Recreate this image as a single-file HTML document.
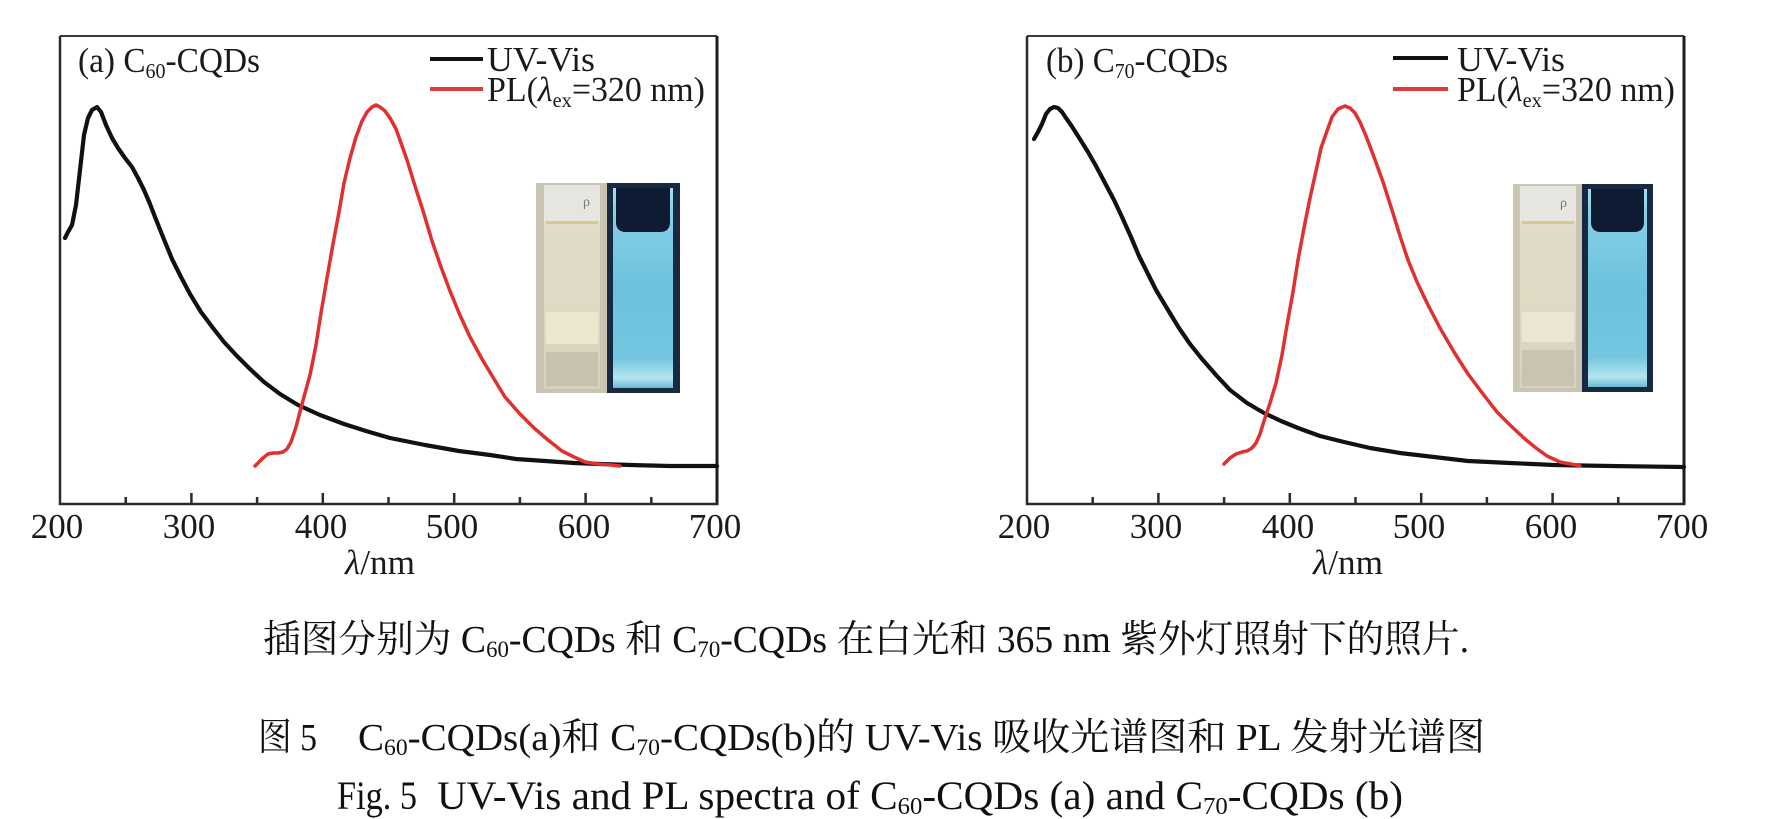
<!DOCTYPE html>
<html>
<head>
<meta charset="utf-8">
<style>
html,body{margin:0;padding:0;background:#fff;}
svg{display:block;}
.t{font-family:"Liberation Serif","Noto Serif CJK SC",serif;fill:#1a1a1a;}
.c{font-family:"Liberation Serif","Noto Serif CJK SC",serif;fill:#111;}
</style>
</head>
<body>
<svg width="1792" height="819" viewBox="0 0 1792 819" xmlns="http://www.w3.org/2000/svg">
<defs>
<linearGradient id="glow" x1="0" y1="0" x2="0" y2="1">
<stop offset="0" stop-color="#a6dff0"/>
<stop offset="0.12" stop-color="#86d0e6"/>
<stop offset="0.5" stop-color="#6cc2dc"/>
<stop offset="0.85" stop-color="#74c6df"/>
<stop offset="0.95" stop-color="#b4e6f2"/>
<stop offset="1" stop-color="#6cb8d2"/>
</linearGradient>
<linearGradient id="beige" x1="0" y1="0" x2="0" y2="1">
<stop offset="0" stop-color="#e2dccb"/>
<stop offset="0.6" stop-color="#e0d9c4"/>
<stop offset="1" stop-color="#d8d1bc"/>
</linearGradient>
</defs>
<rect width="1792" height="819" fill="#fff"/>

<!-- ================= LEFT PANEL ================= -->
<g>
<rect x="536" y="183" width="71" height="210" fill="#c9c3b1"/>
<rect x="544" y="185" width="56" height="204" fill="url(#beige)"/>
<rect x="544" y="185" width="56" height="37" fill="#e7e5df"/>
<rect x="546" y="221" width="52" height="3" fill="#d9c68f"/>
<rect x="546" y="312" width="52" height="32" fill="#ece6cf"/>
<rect x="546" y="352" width="52" height="34" fill="#c8c1ad"/>
<text x="583" y="206" font-size="14" fill="#777" font-family="Liberation Serif, serif">ρ</text>
<rect x="607" y="183" width="73" height="210" fill="#182a42"/>
<rect x="613" y="188" width="60" height="200" fill="url(#glow)"/>
<path d="M616 188 H670 V222 Q670 232 660 232 H626 Q616 232 616 222 Z" fill="#0e1b32"/>

<line x1="60" y1="36" x2="717" y2="36" stroke="#3a3a3a" stroke-width="2"/>
<line x1="60" y1="36" x2="60" y2="505" stroke="#2a2a2a" stroke-width="2.5"/>
<line x1="717" y1="36" x2="717" y2="505" stroke="#1e1e1e" stroke-width="3"/>
<line x1="59" y1="504" x2="718" y2="504" stroke="#2a2a2a" stroke-width="2.5"/>
<g stroke="#2a2a2a" stroke-width="2.5">
<line x1="125.7" y1="504" x2="125.7" y2="497"/>
<line x1="191.4" y1="504" x2="191.4" y2="493"/>
<line x1="257.1" y1="504" x2="257.1" y2="497"/>
<line x1="322.8" y1="504" x2="322.8" y2="493"/>
<line x1="388.5" y1="504" x2="388.5" y2="497"/>
<line x1="454.2" y1="504" x2="454.2" y2="493"/>
<line x1="519.9" y1="504" x2="519.9" y2="497"/>
<line x1="585.6" y1="504" x2="585.6" y2="493"/>
<line x1="651.3" y1="504" x2="651.3" y2="497"/>
</g>
<g class="t" font-size="35" text-anchor="middle">
<text x="57" y="538">200</text>
<text x="189" y="538">300</text>
<text x="321" y="538">400</text>
<text x="452" y="538">500</text>
<text x="584" y="538">600</text>
<text x="715" y="538">700</text>
</g>
<text class="t" x="345" y="574" font-size="35" textLength="70" lengthAdjust="spacingAndGlyphs"><tspan font-style="italic">λ</tspan>/nm</text>

<text class="t" x="78" y="72" font-size="35" textLength="182" lengthAdjust="spacingAndGlyphs">(a) C<tspan font-size="21" dy="6">60</tspan><tspan dy="-6">-CQDs</tspan></text>
<line x1="430" y1="59" x2="483" y2="59" stroke="#111" stroke-width="4"/>
<line x1="430" y1="89" x2="483" y2="89" stroke="#e03a3a" stroke-width="4"/>
<text class="t" x="487" y="71" font-size="35" textLength="108" lengthAdjust="spacingAndGlyphs">UV-Vis</text>
<text class="t" x="487" y="101" font-size="35" textLength="218" lengthAdjust="spacingAndGlyphs">PL(<tspan font-style="italic">λ</tspan><tspan font-size="21" dy="6">ex</tspan><tspan dy="-6">=320 nm)</tspan></text>

<polyline fill="none" stroke="#111" stroke-width="4.2" stroke-linejoin="round" stroke-linecap="round"
points="65,238 68,232 72,225 76,205 80,170 84,135 88,118 92,110 97,107 101,112 106,125 112,138 118,148 125,158 132,167 138,178 144,190 150,204 155,217 163,237 172,259 181,277 190,294 201,312 213,328 224,342 236,355 250,369 264,382 280,394 298,405 320,415 344,424 366,431 390,438 425,445 459,451 490,455 516,459 545,461 574,463 600,464 631,465 670,466 717,466"/>
<polyline fill="none" stroke="#e03030" stroke-width="3.5" stroke-linejoin="round" stroke-linecap="round"
points="255,466 259,462 263,458 268,454 273,453 278,453 283,452 287,449 291,442 296,427 302,404 310,375 316,345 321,313 327,278 333,244 339,212 344,183 350,158 356,137 362,121 367,112 372,107 376,105 380,107 385,111 390,118 396,129 401,143 407,160 415,186 424,214 432,241 441,267 450,291 459,313 470,337 482,359 494,379 505,397 520,414 534,428 548,440 562,451 574,457 585,462 598,464 611,465 620,466"/>
</g>

<!-- ================= RIGHT PANEL ================= -->
<g>
<rect x="1513" y="184" width="69" height="208" fill="#c9c4b3"/>
<rect x="1520" y="186" width="56" height="202" fill="url(#beige)"/>
<rect x="1520" y="186" width="56" height="36" fill="#e8e6e1"/>
<rect x="1522" y="221" width="52" height="3" fill="#d9c68f"/>
<rect x="1522" y="312" width="52" height="30" fill="#ebe6d2"/>
<rect x="1522" y="350" width="52" height="36" fill="#c9c3b1"/>
<text x="1560" y="207" font-size="14" fill="#777" font-family="Liberation Serif, serif">ρ</text>
<rect x="1582" y="184" width="71" height="208" fill="#182a42"/>
<rect x="1588" y="189" width="59" height="198" fill="url(#glow)"/>
<path d="M1591 189 H1644 V222 Q1644 232 1634 232 H1601 Q1591 232 1591 222 Z" fill="#0e1b32"/>

<line x1="1027" y1="36" x2="1684" y2="36" stroke="#3a3a3a" stroke-width="2"/>
<line x1="1027" y1="36" x2="1027" y2="505" stroke="#2a2a2a" stroke-width="2.5"/>
<line x1="1684" y1="36" x2="1684" y2="505" stroke="#1e1e1e" stroke-width="3"/>
<line x1="1026" y1="504" x2="1685" y2="504" stroke="#2a2a2a" stroke-width="2.5"/>
<g stroke="#2a2a2a" stroke-width="2.5">
<line x1="1092.7" y1="504" x2="1092.7" y2="497"/>
<line x1="1158.4" y1="504" x2="1158.4" y2="493"/>
<line x1="1224.1" y1="504" x2="1224.1" y2="497"/>
<line x1="1289.8" y1="504" x2="1289.8" y2="493"/>
<line x1="1355.5" y1="504" x2="1355.5" y2="497"/>
<line x1="1421.2" y1="504" x2="1421.2" y2="493"/>
<line x1="1486.9" y1="504" x2="1486.9" y2="497"/>
<line x1="1552.6" y1="504" x2="1552.6" y2="493"/>
<line x1="1618.3" y1="504" x2="1618.3" y2="497"/>
</g>
<g class="t" font-size="35" text-anchor="middle">
<text x="1024" y="538">200</text>
<text x="1156" y="538">300</text>
<text x="1288" y="538">400</text>
<text x="1419" y="538">500</text>
<text x="1551" y="538">600</text>
<text x="1682" y="538">700</text>
</g>
<text class="t" x="1313" y="574" font-size="35" textLength="70" lengthAdjust="spacingAndGlyphs"><tspan font-style="italic">λ</tspan>/nm</text>

<text class="t" x="1046" y="72" font-size="35" textLength="182" lengthAdjust="spacingAndGlyphs">(b) C<tspan font-size="21" dy="6">70</tspan><tspan dy="-6">-CQDs</tspan></text>
<line x1="1393" y1="58" x2="1448" y2="58" stroke="#111" stroke-width="4"/>
<line x1="1393" y1="89" x2="1448" y2="89" stroke="#e03a3a" stroke-width="4"/>
<text class="t" x="1457" y="71" font-size="35" textLength="108" lengthAdjust="spacingAndGlyphs">UV-Vis</text>
<text class="t" x="1457" y="101" font-size="35" textLength="218" lengthAdjust="spacingAndGlyphs">PL(<tspan font-style="italic">λ</tspan><tspan font-size="21" dy="6">ex</tspan><tspan dy="-6">=320 nm)</tspan></text>

<polyline fill="none" stroke="#111" stroke-width="4.2" stroke-linejoin="round" stroke-linecap="round"
points="1034,139 1038,132 1042,124 1046,114 1050,109 1054,107 1058,108 1062,112 1066,118 1071,125 1078,136 1088,152 1096,166 1105,183 1114,200 1122,217 1131,237 1139,256 1148,274 1156,290 1168,310 1179,328 1190,344 1202,359 1216,375 1230,390 1247,403 1264,413 1281,421 1298,428 1320,436 1344,442 1370,448 1400,453 1434,457 1468,461 1510,463 1554,465 1610,466 1684,467"/>
<polyline fill="none" stroke="#e03030" stroke-width="3.5" stroke-linejoin="round" stroke-linecap="round"
points="1224,464 1230,458 1236,454 1242,452 1247,451 1252,448 1256,443 1260,434 1264,421 1270,403 1276,383 1282,355 1287,325 1293,292 1298,260 1304,228 1310,198 1316,171 1321,148 1327,131 1332,117 1338,109 1345,106 1350,108 1355,113 1360,122 1366,136 1374,157 1383,182 1392,210 1400,236 1408,260 1417,282 1428,305 1440,328 1454,352 1468,374 1483,394 1497,412 1511,426 1525,439 1536,448 1547,456 1560,462 1576,465 1580,466"/>
</g>

<!-- ================= CAPTION ================= -->
<text class="c" x="263" y="652" font-size="38" textLength="1206" lengthAdjust="spacingAndGlyphs">插图分别为 C<tspan font-size="23" dy="5">60</tspan><tspan dy="-5">-CQDs 和 C</tspan><tspan font-size="23" dy="5">70</tspan><tspan dy="-5">-CQDs 在白光和 365 nm 紫外灯照射下的照片.</tspan></text>

<text class="c" x="258" y="750" font-size="38" textLength="59" lengthAdjust="spacingAndGlyphs">图 5</text>
<text class="c" x="358" y="750" font-size="38" textLength="1127" lengthAdjust="spacingAndGlyphs">C<tspan font-size="23" dy="5">60</tspan><tspan dy="-5">-CQDs(a)和 C</tspan><tspan font-size="23" dy="5">70</tspan><tspan dy="-5">-CQDs(b)的 UV-Vis 吸收光谱图和 PL 发射光谱图</tspan></text>

<text class="c" x="337" y="809" font-size="40" textLength="80" lengthAdjust="spacingAndGlyphs">Fig. 5</text>
<text class="c" x="437" y="809" font-size="40" textLength="966" lengthAdjust="spacingAndGlyphs">UV-Vis and PL spectra of C<tspan font-size="24" dy="5">60</tspan><tspan dy="-5">-CQDs (a) and C</tspan><tspan font-size="24" dy="5">70</tspan><tspan dy="-5">-CQDs (b)</tspan></text>
</svg>
</body>
</html>
